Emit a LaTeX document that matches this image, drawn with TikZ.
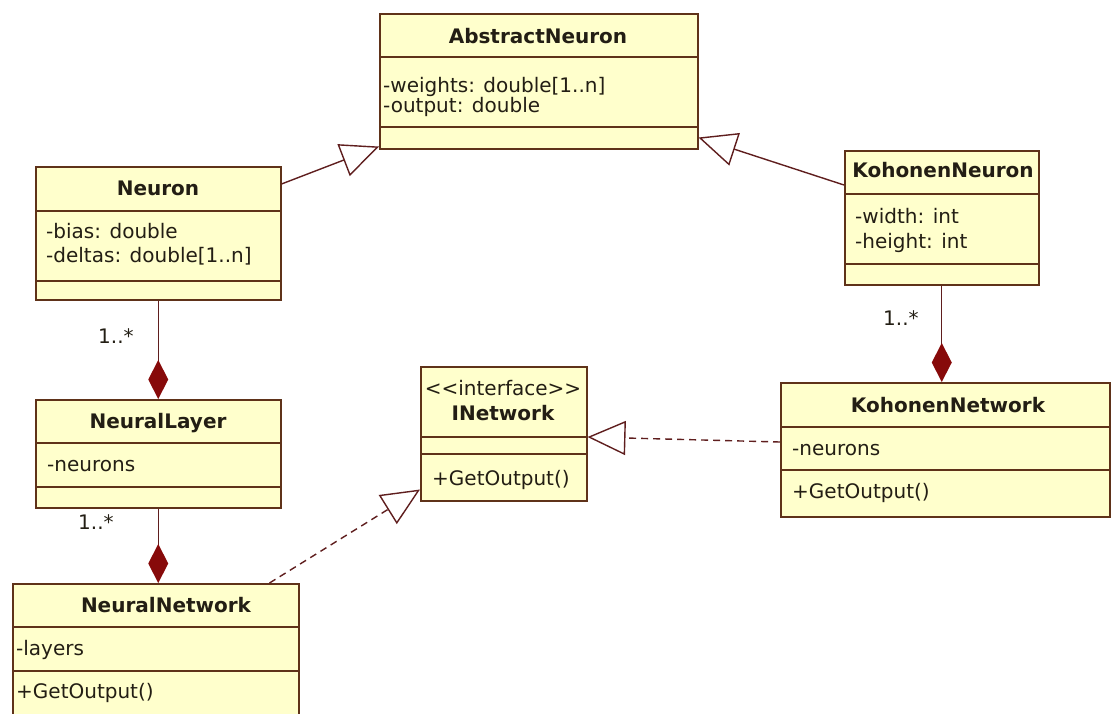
\documentclass[tikz,border=0pt]{standalone}
\usepackage{fontspec}
\setmainfont{DejaVu Sans}
\usetikzlibrary{arrows.meta,positioning}
\definecolor{classfill}{RGB}{255,255,204}
\definecolor{classline}{RGB}{95,50,25}
\definecolor{linkline}{RGB}{95,30,30}
\definecolor{diamondred}{RGB}{135,10,10}
\definecolor{textdark}{RGB}{35,30,20}
\begin{document}
\begin{tikzpicture}[x=1pt,y=-1pt,font=\fontsize{20}{24}\selectfont,
  classbox/.style={draw=classline,fill=classfill,line width=1.5pt,anchor=north west,inner sep=0pt},
  part/.style={draw=classline,line width=1.5pt},
  title/.style={anchor=base,font=\fontsize{20}{24}\selectfont\bfseries,text=textdark,inner sep=0pt},
  member/.style={anchor=base west,text=textdark,inner sep=0pt},
  mult/.style={anchor=base west,text=textdark,inner sep=0pt},
  assoc/.style={draw=linkline,line width=1.4pt},
  compose/.style={assoc,-{Diamond[length=39pt,width=20pt,fill=diamondred,color=diamondred]}},
  inherit/.style={assoc,-{Triangle[open,length=38pt,width=34pt,fill=white]}},
  realize/.style={inherit,dash pattern=on 7pt off 5pt}]
  \useasboundingbox (0,0) rectangle (1113,713);

  % AbstractNeuron
  \node[classbox,minimum width=318pt,minimum height=135pt] (an) at (379,13) {};
  \draw[part] ([yshift=-44pt]an.north west) -- ([yshift=-44pt]an.north east);
  \draw[part] ([yshift=-114pt]an.north west) -- ([yshift=-114pt]an.north east);
  \node[title] (an-t) at (538,43) {AbstractNeuron};
  \node[member] (an-a1) at (383,92) {-weights: double[1..n]};
  \node[member] (an-a2) at (383,112) {-output: double};

  % Neuron
  \node[classbox,minimum width=245pt,minimum height=133pt] (neuron) at (35,166) {};
  \draw[part] ([yshift=-45pt]neuron.north west) -- ([yshift=-45pt]neuron.north east);
  \draw[part] ([yshift=-115pt]neuron.north west) -- ([yshift=-115pt]neuron.north east);
  \node[title] (neuron-t) at (158,195) {Neuron};
  \node[member] (neuron-a1) at (46,238) {-bias: double};
  \node[member] (neuron-a2) at (46,262) {-deltas: double[1..n]};

  % KohonenNeuron
  \node[classbox,minimum width=194pt,minimum height=134pt] (kn) at (844,150) {};
  \draw[part] ([yshift=-44pt]kn.north west) -- ([yshift=-44pt]kn.north east);
  \draw[part] ([yshift=-114pt]kn.north west) -- ([yshift=-114pt]kn.north east);
  \node[title] (kn-t) at (943,177) {KohonenNeuron};
  \node[member] (kn-a1) at (855,223) {-width: int};
  \node[member] (kn-a2) at (855,248) {-height: int};

  % NeuralLayer
  \node[classbox,minimum width=245pt,minimum height=108pt] (nl) at (35,399) {};
  \draw[part] ([yshift=-44pt]nl.north west) -- ([yshift=-44pt]nl.north east);
  \draw[part] ([yshift=-88pt]nl.north west) -- ([yshift=-88pt]nl.north east);
  \node[title] (nl-t) at (158,428) {NeuralLayer};
  \node[member] (nl-a1) at (47,471) {-neurons};

  % INetwork
  \node[classbox,minimum width=166pt,minimum height=134pt] (inet) at (420,366) {};
  \draw[part] ([yshift=-71pt]inet.north west) -- ([yshift=-71pt]inet.north east);
  \draw[part] ([yshift=-88pt]inet.north west) -- ([yshift=-88pt]inet.north east);
  \node[member,anchor=base] (inet-s) at (503,395) {{<}{<}interface{>}{>}};
  \node[title] (inet-t) at (503,420) {INetwork};
  \node[member] (inet-o1) at (432,485) {+GetOutput()};

  % KohonenNetwork
  \node[classbox,minimum width=329pt,minimum height=134pt] (knet) at (780,382) {};
  \draw[part] ([yshift=-45pt]knet.north west) -- ([yshift=-45pt]knet.north east);
  \draw[part] ([yshift=-88pt]knet.north west) -- ([yshift=-88pt]knet.north east);
  \node[title] (knet-t) at (948,412) {KohonenNetwork};
  \node[member] (knet-a1) at (792,455) {-neurons};
  \node[member] (knet-o1) at (792,498) {+GetOutput()};

  % NeuralNetwork
  \node[classbox,minimum width=286pt,minimum height=140pt] (nn) at (12,583) {};
  \draw[part] ([yshift=-44pt]nn.north west) -- ([yshift=-44pt]nn.north east);
  \draw[part] ([yshift=-88pt]nn.north west) -- ([yshift=-88pt]nn.north east);
  \node[title] (nn-t) at (166,612) {NeuralNetwork};
  \node[member] (nn-a1) at (16,655) {-layers};
  \node[member] (nn-o1) at (16,698) {+GetOutput()};

  % generalization and realization
  \draw[inherit] ([yshift=-18pt]neuron.north east) -- ([yshift=3pt]an.south west);
  \draw[inherit] ([yshift=-35pt]kn.north west) -- ([yshift=12pt]an.south east);
  \draw[realize] ([xshift=-30pt]nn.north east) -- ([yshift=12pt]inet.south west);
  \draw[realize] ([yshift=-60pt]knet.north west) -- ([yshift=-71pt]inet.north east);

  % composition
  \draw[compose] (neuron.south) -- (neuron.south |- nl.north);
  \draw[compose] (nl.south) -- (nl.south |- nn.north);
  \draw[compose] (kn.south) -- (kn.south |- knet.north);
  \node[mult] (m1) at (98,343) {1..*};
  \node[mult] (m2) at (78,529) {1..*};
  \node[mult] (m3) at (883,325) {1..*};
\end{tikzpicture}
\end{document}
